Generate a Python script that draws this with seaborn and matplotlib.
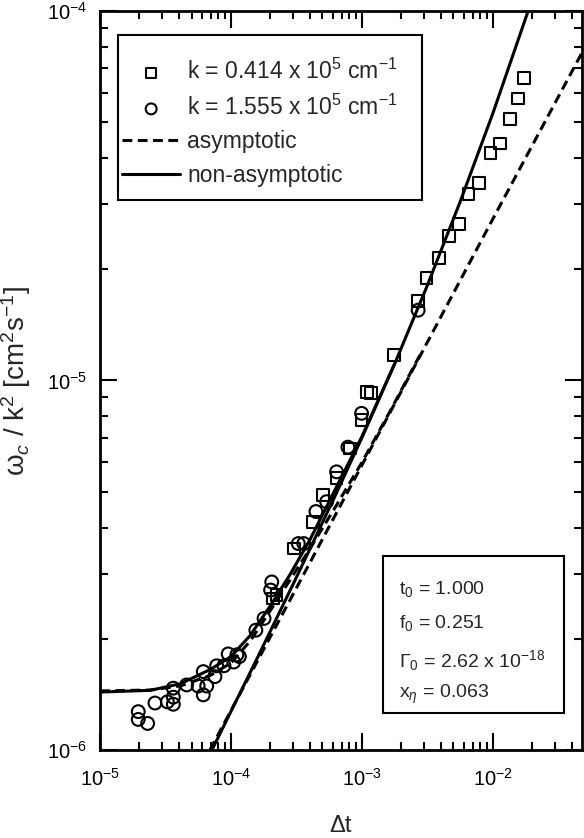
import numpy as np
import pandas as pd
import matplotlib
matplotlib.use("Agg")
import matplotlib.pyplot as plt
import matplotlib.patches as mpatches
import seaborn as sns

sns.set_style("ticks")
plt.rcParams['font.family'] = ['Liberation Sans', 'DejaVu Sans']
plt.rcParams['mathtext.fontset'] = 'custom'
plt.rcParams['mathtext.rm'] = 'Liberation Sans'
plt.rcParams['mathtext.it'] = 'Liberation Sans:italic'

# measured points, k = 0.414e5 cm^-1 (squares)
sq_dt = [1.734e-2, 1.560e-2, 1.349e-2, 1.129e-2, 9.59e-3, 7.85e-3, 6.53e-3, 5.53e-3,
         4.64e-3, 3.89e-3, 3.12e-3, 2.69e-3, 1.77e-3, 1.17e-3, 1.09e-3, 9.95e-4,
         8.09e-4, 6.41e-4, 5.07e-4, 4.21e-4, 3.03e-4, 2.10e-4, 2.23e-4]
sq_w = [6.58e-5, 5.80e-5, 5.09e-5, 4.38e-5, 4.13e-5, 3.43e-5, 3.19e-5, 2.65e-5,
        2.46e-5, 2.15e-5, 1.89e-5, 1.64e-5, 1.17e-5, 9.23e-6, 9.30e-6, 7.82e-6,
        6.55e-6, 5.44e-6, 4.90e-6, 4.15e-6, 3.51e-6, 2.57e-6, 2.63e-6]

# measured points, k = 1.555e5 cm^-1 (circles)
ci_dt = [2.69e-3, 9.95e-4, 7.82e-4, 6.41e-4, 5.38e-4, 4.46e-4, 3.27e-4, 3.60e-4,
         2.05e-4, 2.01e-4, 1.79e-4, 1.55e-4, 1.11e-4, 9.53e-5, 1.16e-4, 1.05e-4,
         8.85e-5, 7.78e-5, 7.55e-5, 6.15e-5, 5.62e-5, 6.53e-5, 6.15e-5, 4.59e-5,
         3.63e-5, 3.63e-5, 3.63e-5, 3.27e-5, 2.63e-5, 1.96e-5, 1.96e-5, 2.31e-5]
ci_w = [1.55e-5, 8.15e-6, 6.60e-6, 5.66e-6, 4.70e-6, 4.42e-6, 3.62e-6, 3.62e-6,
        2.85e-6, 2.71e-6, 2.27e-6, 2.11e-6, 1.81e-6, 1.82e-6, 1.79e-6, 1.73e-6,
        1.69e-6, 1.69e-6, 1.58e-6, 1.63e-6, 1.49e-6, 1.49e-6, 1.41e-6, 1.50e-6,
        1.47e-6, 1.39e-6, 1.33e-6, 1.35e-6, 1.34e-6, 1.27e-6, 1.21e-6, 1.18e-6]

# theory curves
# non-asymptotic, k = 0.414e5
na_lo_dt = [7.16e-5, 1.585e-4, 3.16e-4, 6.31e-4, 1.0e-3, 1.78e-3, 3.16e-3, 5.62e-3,
            1.0e-2, 1.78e-2, 1.86e-2]
na_lo_w = [1.0e-6, 1.77e-6, 2.93e-6, 4.91e-6, 7.00e-6, 1.109e-5, 1.808e-5, 3.04e-5,
           5.28e-5, 9.55e-5, 1.0e-4]
# non-asymptotic, k = 1.555e5
na_hi_dt = [1.0e-5, 2.41e-5, 4.09e-5, 6.92e-5, 1.0e-4, 1.40e-4, 1.99e-4, 2.82e-4,
            4.0e-4, 6.31e-4, 1.0e-3, 1.78e-3]
na_hi_w = [1.435e-6, 1.45e-6, 1.51e-6, 1.65e-6, 1.79e-6, 2.04e-6, 2.45e-6, 2.98e-6,
           3.70e-6, 5.10e-6, 7.05e-6, 1.11e-5]
# asymptotic, k = 0.414e5
as_lo_dt = [6.91e-5, 4.08e-4, 1.88e-3, 9.48e-3, 4.78e-2]
as_lo_w = [1.0e-6, 3.25e-6, 8.97e-6, 2.64e-5, 7.69e-5]
# asymptotic, k = 1.555e5
as_hi_dt = [1.0e-5, 2.41e-5, 4.09e-5, 6.92e-5, 1.0e-4, 1.40e-4, 1.99e-4, 2.82e-4,
            4.0e-4, 6.22e-4, 1.0e-3, 1.64e-3, 2.77e-3]
as_hi_w = [1.445e-6, 1.453e-6, 1.49e-6, 1.59e-6, 1.72e-6, 1.97e-6, 2.38e-6, 2.88e-6,
           3.50e-6, 4.52e-6, 6.0e-6, 8.25e-6, 1.17e-5]

fig = plt.figure(figsize=(5.84, 8.38), dpi=100)
ax = fig.add_axes([100/584, 88/838, 482/584, 739/838])
ax.set_xscale("log")
ax.set_yscale("log")

dash = (0, (3.2, 1.8))
sns.lineplot(x=as_lo_dt, y=as_lo_w, ax=ax, color="black", lw=2.2, linestyle=dash,
             label="asymptotic", sort=False)
sns.lineplot(x=as_hi_dt, y=as_hi_w, ax=ax, color="black", lw=2.2, linestyle=dash,
             sort=False)
sns.lineplot(x=na_lo_dt, y=na_lo_w, ax=ax, color="black", lw=2.2,
             label="non-asymptotic", sort=False)
sns.lineplot(x=na_hi_dt, y=na_hi_w, ax=ax, color="black", lw=2.2, sort=False)

sns.scatterplot(x=sq_dt, y=sq_w, ax=ax, marker="s", s=72, facecolor="none",
                edgecolor="black", linewidth=1.5, zorder=3,
                label=r"k = 0.414 x 10$^{5}$ cm$^{-1}$")
sns.scatterplot(x=ci_dt, y=ci_w, ax=ax, marker="o", s=85, facecolor="none",
                edgecolor="black", linewidth=1.5, zorder=3,
                label=r"k = 1.555 x 10$^{5}$ cm$^{-1}$")

ax.set_xlim(1e-5, 4.8e-2)
ax.set_ylim(1e-6, 1e-4)

# legend (frame drawn separately)
h, l = ax.get_legend_handles_labels()
order = [2, 3, 0, 1]
leg = ax.legend([h[i] for i in order], [l[i] for i in order], loc="upper left",
                bbox_to_anchor=(0.036, 0.941), fontsize=16.5, frameon=False,
                handlelength=2.55, handletextpad=0.3, borderpad=0.2,
                labelspacing=0.45, borderaxespad=0, markerscale=0.85)
ax.add_patch(mpatches.Rectangle((0.0373, 0.744), 0.631, 0.2235, transform=ax.transAxes,
                                fill=False, edgecolor="black", lw=1.5, zorder=5))

# parameter box
ax.add_patch(mpatches.Rectangle((0.587, 0.050), 0.376, 0.2125, transform=ax.transAxes,
                                facecolor="white", edgecolor="black", lw=1.5, zorder=5))
params = [r"t$_0$ = 1.000", r"f$_0$ = 0.251", r"Γ$_0$ = 2.62 x 10$^{-18}$",
          r"x$_η$ = 0.063"]
for txt, yy in zip(params, [0.218, 0.172, 0.121, 0.075]):
    ax.text(0.620, yy, txt, transform=ax.transAxes, fontsize=14, va="center",
            ha="left", zorder=6)

ax.set_xlabel("Δt", fontsize=17, labelpad=18)
ax.set_ylabel(r"ω$_c$ / k$^2$ [cm$^2$s$^{-1}$]", fontsize=20, labelpad=10)

ax.tick_params(which="both", direction="in", top=True, right=True, width=1.5,
               labelsize=14.5, colors="black")
ax.tick_params(which="major", length=12)
ax.tick_params(which="minor", length=6)
ax.tick_params(axis="x", which="major", pad=13)
ax.tick_params(axis="y", which="major", pad=9)
for s in ax.spines.values():
    s.set_linewidth(2)
    s.set_color("black")

fig.savefig("out.png", dpi=100)
